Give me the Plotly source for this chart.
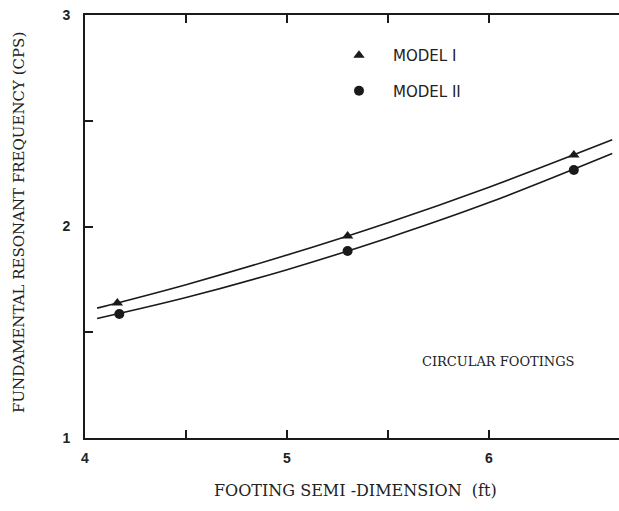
import plotly.graph_objects as go

# measured points
x_model1 = [4.16, 5.30, 6.42]
y_model1 = [1.638, 1.955, 2.338]
x_model2 = [4.17, 5.30, 6.42]
y_model2 = [1.586, 1.884, 2.267]

# fitted curves
x_curve = [4.06, 4.5, 5.0, 5.5, 6.0, 6.61]
y_curve1 = [1.614, 1.725, 1.865, 2.018, 2.186, 2.41]
y_curve2 = [1.565, 1.664, 1.796, 1.946, 2.113, 2.345]

x_tickvals = [4, 4.5, 5, 5.5, 6]
x_ticktext = ["4", "", "5", "", "6"]
y_tickvals = [1, 1.5, 2, 2.5, 3]
y_ticktext = ["1", "", "2", "", "3"]

W, H = 619, 511
L, R, T, B = 85, 0, 15, 73
PW, PH = W - L - R, H - T - B

line_col = "#1a1a1a"
serif = "DejaVu Serif"
fig = go.Figure()
fig.add_trace(go.Scatter(x=x_curve, y=y_curve1, mode="lines", line=dict(color=line_col, width=1.6, shape="spline"),
                         showlegend=False, hoverinfo="skip"))
fig.add_trace(go.Scatter(x=x_curve, y=y_curve2, mode="lines", line=dict(color=line_col, width=1.6, shape="spline"),
                         showlegend=False, hoverinfo="skip"))
fig.add_trace(go.Scatter(x=x_model1, y=y_model1, mode="markers", name="MODEL I", legendgroup="a",
                         marker=dict(symbol="triangle-up", size=10, color=line_col)))
fig.add_trace(go.Scatter(x=x_model2, y=y_model2, mode="markers", name="MODEL II", legendgroup="b",
                         marker=dict(symbol="circle", size=10, color=line_col)))

fig.add_annotation(x=4 + (498 - L) / 202, y=1 + (T + PH - 361) / (PH / 2), text="CIRCULAR FOOTINGS",
                   showarrow=False, xref="x", yref="y",
                   font=dict(family=serif, size=13, color="#222"))
fig.add_annotation(x=(355 - L) / PW, y=-(490 - (T + PH)) / PH, xref="paper", yref="paper",
                   xanchor="center", yanchor="middle",
                   text="FOOTING SEMI -DIMENSION&nbsp;&nbsp;(ft)",
                   showarrow=False, font=dict(family=serif, size=16, color="#222"))
fig.add_annotation(x=-(L - 19) / PW, y=(T + PH - 223) / PH, xref="paper", yref="paper",
                   xanchor="center", yanchor="middle", textangle=-90,
                   text="FUNDAMENTAL RESONANT FREQUENCY (CPS)",
                   showarrow=False, font=dict(family=serif, size=15, color="#222"))

fig.update_layout(
    width=W, height=H,
    margin=dict(l=L, r=R, t=T, b=B, autoexpand=False),
    paper_bgcolor="white", plot_bgcolor="white",
    font=dict(family="Liberation Sans", color="#222"),
    legend=dict(x=(325 - L) / PW, y=(T + PH - 39) / PH, xanchor="left", yanchor="top",
                traceorder="grouped", tracegroupgap=13, itemwidth=58,
                font=dict(family="DejaVu Sans", size=15, color="#222"), bgcolor="rgba(0,0,0,0)"),
    xaxis=dict(range=[4, 4 + PW / 202], tickvals=x_tickvals, ticktext=x_ticktext, ticks="inside", ticklen=8,
               tickwidth=1.5, tickcolor=line_col, showline=True, linecolor=line_col, linewidth=2,
               mirror="ticks", showgrid=False, zeroline=False, ticklabelstandoff=6, automargin=False,
               tickfont=dict(family="Liberation Sans", size=14, color="#222", weight="bold")),
    yaxis=dict(range=[1, 3], tickvals=y_tickvals, ticktext=y_ticktext, ticks="inside", ticklen=8,
               tickwidth=1.5, tickcolor=line_col, showline=True, linecolor=line_col, linewidth=2,
               showgrid=False, zeroline=False, ticklabelstandoff=10, automargin=False,
               tickfont=dict(family="Liberation Sans", size=14, color="#222", weight="bold")),
)
fig.write_html("out.html", config={"displayModeBar": False},
               post_script="document.body.style.margin='0';document.body.style.overflow='hidden';")
